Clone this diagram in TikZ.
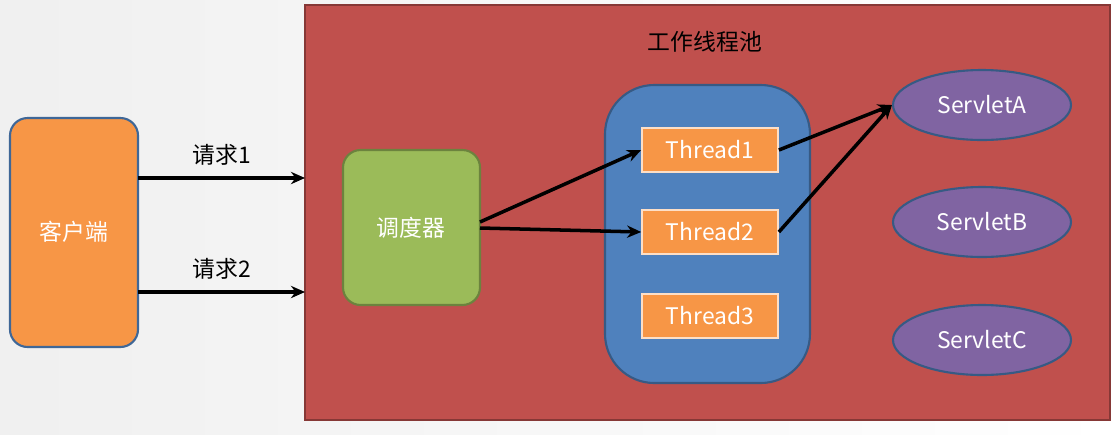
\documentclass[tikz,border=0pt]{standalone}
\usepackage{fontspec}
\setmainfont{Noto Sans CJK SC}
\usetikzlibrary{shapes.geometric,arrows.meta}
\definecolor{poolred}{HTML}{C0504D}
\definecolor{clientorange}{HTML}{F79646}
\definecolor{schedgreen}{HTML}{9BBB59}
\definecolor{threadblue}{HTML}{4F81BD}
\definecolor{servletpurple}{HTML}{8064A2}
\tikzset{
  box/.style={draw, line width=1.2pt, rounded corners=10pt, text=white},
  threadbox/.style={draw=white!70!clientorange, line width=1pt, fill=clientorange, text=white,
    minimum width=2.72cm, minimum height=0.88cm},
  servlet/.style={ellipse, draw=threadblue!70!black, line width=1.2pt, fill=servletpurple, text=white,
    minimum width=3.56cm, minimum height=1.4cm},
  link/.style={-{Stealth[length=8pt,width=7pt]}, line width=2pt}
}
\begin{document}
\begin{tikzpicture}[x=0.02cm, y=-0.02cm, font=\fontsize{13}{15}\selectfont]
  % Background
  \fill[left color=gray!12, right color=white] (0,0) rectangle (1117,434);
  \useasboundingbox (0,0) rectangle (1117,434);
  % Draw the pool
  \draw[line width=1.2pt, draw=poolred!70!black, fill=poolred] (305,5) rectangle (1110,420);
  \node (title) at (705,42) {工作线程池};
  % Draw the client and scheduler
  \draw[box, draw=threadblue!80!black, fill=clientorange] (10,118) rectangle (138,347);
  \node[text=white] (client) at (74,232) {客户端};
  \draw[box, draw=schedgreen!70!black, fill=schedgreen] (343,150) rectangle (480,305);
  \node[text=white] (sched) at (411,228) {调度器};
  \draw[box, rounded corners=28pt, draw=threadblue!70!black, fill=threadblue] (605,85) rectangle (810,383);
  % Draw the threads
  \node[threadbox] (t1) at (710,150) {Thread1};
  \node[threadbox] (t2) at (710,232) {Thread2};
  \node[threadbox] (t3) at (710,316) {Thread3};
  % Draw the servlets
  \node[servlet] (sa) at (982,105) {ServletA};
  \node[servlet] (sb) at (982,222) {ServletB};
  \node[servlet] (sc) at (982,340) {ServletC};
  % Draw the requests
  \coordinate (c1) at (138,178);
  \coordinate (p1) at (305,178);
  \coordinate (c2) at (138,292);
  \coordinate (p2) at (305,292);
  \draw[link] (c1) -- node[above=3pt] (r1) {请求1} (p1);
  \draw[link] (c2) -- node[above=3pt] (r2) {请求2} (p2);
  \coordinate (s1) at (480,222);
  \coordinate (s2) at (480,228);
  \draw[link] (s1) -- (t1.west);
  \draw[link] (s2) -- (t2.west);
  \draw[link] (t1.east) -- (sa.west);
  \draw[link] (t2.east) -- (sa.west);
\end{tikzpicture}
\end{document}
